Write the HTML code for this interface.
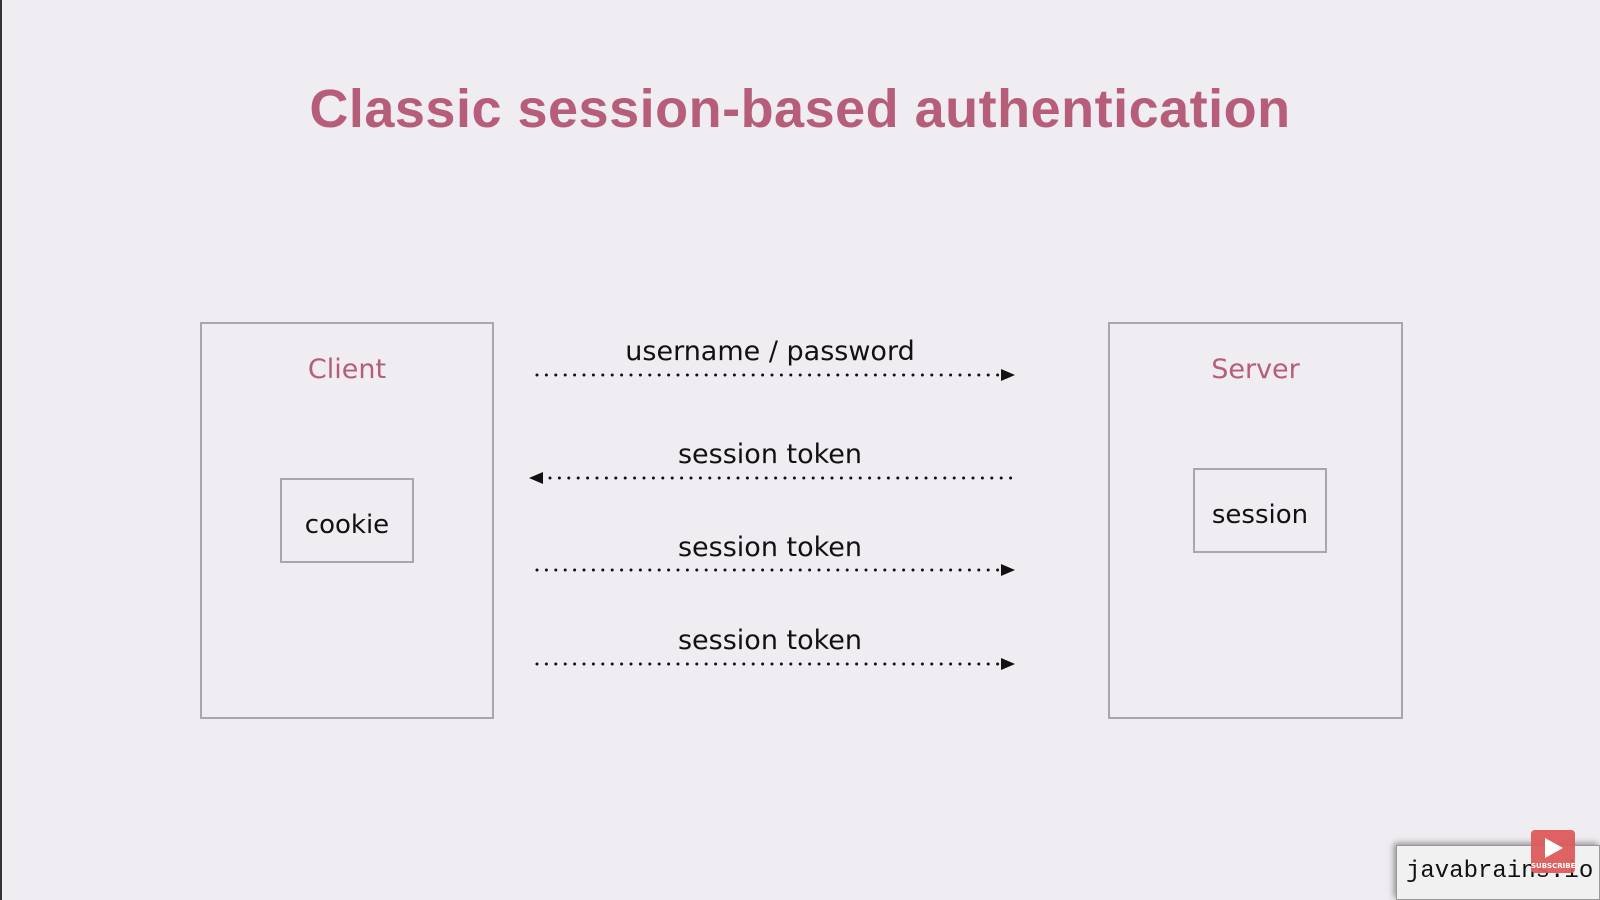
<!DOCTYPE html>
<html><head><style>
body{margin:0;width:1600px;height:900px;background:#efecf2;position:relative;overflow:hidden;font-family:"DejaVu Sans","Liberation Sans",sans-serif}
.a{position:absolute}
.box{position:absolute;border:2px solid #a9a7ab;box-sizing:border-box}
.t{position:absolute;text-align:center;white-space:nowrap}
</style></head><body>
<div class="a" style="left:0;top:0;width:2px;height:900px;background:#333"></div>
<div class="t" style="left:0;width:1600px;top:78px;font-family:'Liberation Sans',sans-serif;font-size:54px;color:#b65d79;font-weight:bold;letter-spacing:0.5px">Classic session-based authentication</div>
<div class="box" style="left:200px;top:322px;width:294px;height:397px"></div>
<div class="t" style="left:200px;width:294px;top:354px;font-size:27px;color:#b65d79">Client</div>
<div class="box" style="left:280px;top:478px;width:134px;height:85px"></div>
<div class="t" style="left:280px;width:134px;top:510px;font-size:26px;color:#111">cookie</div>
<div class="box" style="left:1108px;top:322px;width:295px;height:397px"></div>
<div class="t" style="left:1108px;width:295px;top:354px;font-size:27px;color:#b65d79">Server</div>
<div class="box" style="left:1193px;top:468px;width:134px;height:85px"></div>
<div class="t" style="left:1193px;width:134px;top:500px;font-size:26px;color:#111">session</div>
<div class="t" style="left:570px;width:400px;top:336px;font-size:27px;color:#111">username / password</div>
<div class="t" style="left:570px;width:400px;top:439px;font-size:27px;color:#111">session token</div>
<div class="t" style="left:570px;width:400px;top:532px;font-size:27px;color:#111">session token</div>
<div class="t" style="left:570px;width:400px;top:625px;font-size:27px;color:#111">session token</div>
<svg class="a" style="left:0;top:0" width="1600" height="900">
<g stroke="#111" stroke-width="3" stroke-linecap="round" stroke-dasharray="0 9.4" fill="none">
<line x1="537" y1="375" x2="1000" y2="375"/>
<line x1="550" y1="478" x2="1012" y2="478"/>
<line x1="537" y1="570" x2="1000" y2="570"/>
<line x1="537" y1="664" x2="1000" y2="664"/>
</g>
<g fill="#111">
<polygon points="1001,369 1015,375 1001,381"/>
<polygon points="543,472 529,478 543,484"/>
<polygon points="1001,564 1015,570 1001,576"/>
<polygon points="1001,658 1015,664 1001,670"/>
</g>
</svg>
<div class="a" style="left:1396px;top:845px;width:204px;height:55px;background:#f1f1f1;border:1px solid #999;box-shadow:-2px -2px 6px rgba(0,0,0,.4);box-sizing:border-box"></div>
<div class="t" style="left:1406px;top:858px;font-family:'Liberation Mono',monospace;font-size:24px;color:#111">javabrains.io</div>
<div class="a" style="left:1531px;top:830px;width:44px;height:43px;background:#dc5b5b;border-radius:4px;opacity:.95"></div>
<svg class="a" style="left:1543px;top:836px" width="24" height="24"><polygon points="2,2 20,12 2,22" fill="#fff"/></svg>
<div class="t" style="left:1531px;width:44px;top:862px;font-size:7px;color:#fff;font-weight:bold">SUBSCRIBE</div>
</body></html>
